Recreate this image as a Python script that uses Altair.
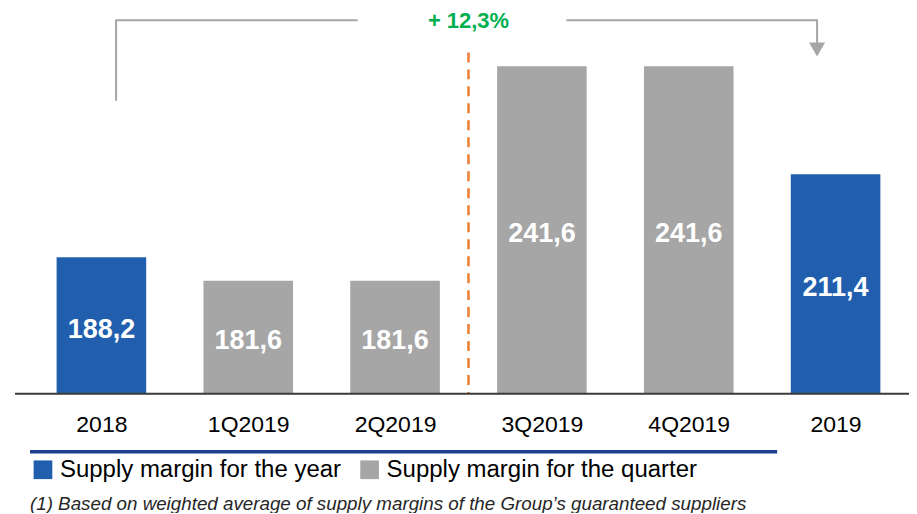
import altair as alt
import pandas as pd
import json

# ---- data ----
categories = ["2018", "1Q2019", "2Q2019", "3Q2019", "4Q2019", "2019"]
values = [188.2, 181.6, 181.6, 241.6, 241.6, 211.4]
labels = ["188,2", "181,6", "181,6", "241,6", "241,6", "211,4"]
series = ["Supply margin for the year", "Supply margin for the quarter",
          "Supply margin for the quarter", "Supply margin for the quarter",
          "Supply margin for the quarter", "Supply margin for the year"]
series_order = ["Supply margin for the year", "Supply margin for the quarter"]
series_colors = ["#215FAE", "#A6A6A6"]
growth_label = "+ 12,3%"
footnote = "(1) Based on weighted average of supply margins of the Group\u2019s guaranteed suppliers"

Y_MIN, Y_MAX = 150, 257
BAR_HALF = 0.305  # half bar width in slot units

df = pd.DataFrame({"cat": categories, "i": list(range(len(categories))),
                   "value": values, "label": labels, "series": series})

# annotation geometry in slot units (category slot 0..6) and value units
bracket_left = pd.DataFrame({"s": [0.6, 0.6, 2.245], "v": [232.0, 254.5, 254.5], "o": [0, 1, 2]})
bracket_right = pd.DataFrame({"s": [3.667, 5.374, 5.374], "v": [254.5, 254.5, 247.5], "o": [0, 1, 2]})
arrow_tip = pd.DataFrame({"s": [5.374], "v": [246.3]})
divider = pd.DataFrame({"s": [3.0], "v": [245.5], "v2": [Y_MIN]})
growth = pd.DataFrame({"s": [3.0], "v": [254.6], "t": [growth_label]})

W, H = 882, 383

yscale = alt.Scale(domain=[Y_MIN, Y_MAX], zero=False, nice=False)
sscale = alt.Scale(domain=[0, len(categories)], nice=False, zero=False)

cat_js = json.dumps(categories)
xaxis = alt.Axis(values=[i + 0.5 for i in range(len(categories))],
                 labelExpr=f"{cat_js}[floor(datum.value)]",
                 labelAngle=0, domain=False, ticks=False, grid=False, labelPadding=20,
                 labelFontSize=23, labelFont="Liberation Sans", labelColor="#000000",
                 labelFlush=False, labelOverlap=False, title=None)


def X(field):
    return alt.X(field, scale=sscale, axis=xaxis)


def Y(field):
    return alt.Y(field, scale=yscale, axis=None)


bars = alt.Chart(df).transform_calculate(
    x0=f"datum.i + 0.5 - {BAR_HALF}", x1=f"datum.i + 0.5 + {BAR_HALF}"
).mark_bar().encode(
    x=X("x0:Q"),
    x2="x1:Q",
    y=Y("value:Q"),
    y2=alt.datum(Y_MIN),
    color=alt.Color("series:N", scale=alt.Scale(domain=series_order, range=series_colors),
                    legend=alt.Legend(title=None, orient="none", legendX=3, legendY=447,
                                      direction="horizontal", symbolType="square",
                                      symbolSize=350, symbolStrokeWidth=0,
                                      labelFontSize=24, labelFont="Liberation Sans",
                                      labelColor="#000000", labelOffset=5,
                                      columnPadding=16, padding=0, labelLimit=400)),
)

bar_text = alt.Chart(df).transform_calculate(
    mid=f"(datum.value + {Y_MIN}) / 2", xc="datum.i + 0.5"
).mark_text(color="white", fontSize=27, fontWeight="bold", font="Liberation Sans",
            baseline="middle", dy=4).encode(
    x=X("xc:Q"),
    y=Y("mid:Q"),
    text="label:N",
)

line_l = alt.Chart(bracket_left).mark_line(color="#A6A6A6", strokeWidth=2).encode(
    x=X("s:Q"), y=Y("v:Q"), order="o:Q",
)
line_r = alt.Chart(bracket_right).mark_line(color="#A6A6A6", strokeWidth=2).encode(
    x=X("s:Q"), y=Y("v:Q"), order="o:Q",
)
tip = alt.Chart(arrow_tip).mark_point(shape="triangle-down", filled=True, size=260,
                                      color="#A6A6A6", opacity=1).encode(
    x=X("s:Q"), y=Y("v:Q"),
)
dash = alt.Chart(divider).mark_rule(color="#ED7D31", strokeWidth=2.5, strokeDash=[10, 7]).encode(
    x=X("s:Q"), y=Y("v:Q"), y2="v2:Q",
)
gtext = alt.Chart(growth).mark_text(color="#00B050", fontSize=22, fontWeight="bold",
                                    font="Liberation Sans", baseline="middle", dy=1).encode(
    x=X("s:Q"), y=Y("v:Q"), text="t:N",
)

one = pd.DataFrame({"k": [0]})
baseline_rule = alt.Chart(one).mark_rule(color="#3a3a3a", strokeWidth=2).encode(
    x=alt.value(-13), x2=alt.value(890), y=alt.value(H))
navy_rule = alt.Chart(one).mark_rule(color="#203F8F", strokeWidth=3.5).encode(
    x=alt.value(2), x2=alt.value(750), y=alt.value(441))
foot = alt.Chart(pd.DataFrame({"t": [footnote]})).mark_text(
    align="left", baseline="middle", fontSize=18.8, fontStyle="italic",
    font="Liberation Sans", color="#262626").encode(
    x=alt.value(2), y=alt.value(493), text="t:N")

chart = alt.layer(
    bars, bar_text, line_l, line_r, tip, dash, gtext, baseline_rule, navy_rule, foot
).properties(
    width=W, height=H,
    background="white",
    autosize=alt.AutoSizeParams(type="none"),
    padding={"left": 20, "top": 3, "right": 0, "bottom": 119},
).configure_axis(grid=False).configure_view(stroke=None)

chart.save("out.html", embed_options={"renderer": "svg", "actions": False})
